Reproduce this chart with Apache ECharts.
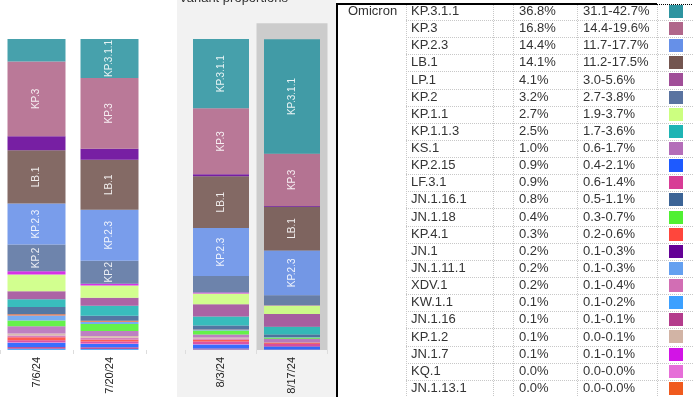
<!DOCTYPE html>
<html>
<head>
<meta charset="utf-8">
<script src="https://cdn.jsdelivr.net/npm/echarts@6/dist/echarts.min.js"></script>
<style>
  html, body { margin: 0; padding: 0; background: #fff; }
  #chart { width: 693px; height: 397px; }
</style>
</head>
<body>
<div id="chart"></div>
<script>
// ---- data ----
const dates = ["7/6/24", "7/20/24", "8/3/24", "8/17/24"];

// stacking order, top of the bar first
const stackOrder = [
  "KP.3.1.1", "KP.3", "JN.1", "LB.1", "KP.2.3", "KP.2", "JN.1.7", "KP.1.1",
  "LP.1", "KP.1.1.3", "JN.1.16.1", "JN.1.13.1", "JN.1.11.1", "JN.1.18", "KS.1",
  "KP.1.2", "XDV.1", "KP.4.1", "LF.3.1", "KQ.1", "KP.2.15", "JN.1.16", "KW.1.1"
];

// shares (%) per date, same order as stackOrder
const share_0706 = [7.3, 24.1, 4.5, 17.1, 13.2, 8.6, 1.0, 5.4, 2.6, 2.5, 2.3, 0.4, 1.6, 1.9, 2.3, 0.6, 0.6, 1.0, 0.6, 0.2, 1.3, 0.6, 0.4];
const share_0720 = [12.5, 22.8, 3.5, 16.1, 16.4, 7.4, 0.6, 3.9, 2.6, 3.2, 1.6, 0.3, 0.7, 2.3, 1.6, 0.6, 0.6, 0.6, 0.6, 0.2, 1.0, 0.6, 0.3];
const share_0803 = [22.3, 21.2, 0.6, 16.7, 15.4, 5.3, 0.3, 3.5, 3.9, 2.9, 1.3, 0.1, 0.2, 1.3, 1.0, 0.3, 0.4, 0.6, 0.8, 0.1, 1.3, 0.3, 0.2];
const share_0817 = [36.8, 16.8, 0.2, 14.1, 14.4, 3.2, 0.1, 2.7, 4.1, 2.5, 0.8, 0.0, 0.2, 0.4, 1.0, 0.1, 0.2, 0.3, 0.9, 0.0, 0.9, 0.1, 0.1];

// table for the latest period
const tableLineages = [
  "KP.3.1.1", "KP.3", "KP.2.3", "LB.1", "LP.1", "KP.2", "KP.1.1", "KP.1.1.3",
  "KS.1", "KP.2.15", "LF.3.1", "JN.1.16.1", "JN.1.18", "KP.4.1", "JN.1",
  "JN.1.11.1", "XDV.1", "KW.1.1", "JN.1.16", "KP.1.2", "JN.1.7", "KQ.1", "JN.1.13.1"
];
const tablePct = [
  "36.8%", "16.8%", "14.4%", "14.1%", "4.1%", "3.2%", "2.7%", "2.5%", "1.0%", "0.9%", "0.9%",
  "0.8%", "0.4%", "0.3%", "0.2%", "0.2%", "0.2%", "0.1%", "0.1%", "0.1%", "0.1%", "0.0%", "0.0%"
];
const tableRange = [
  "31.1-42.7%", "14.4-19.6%", "11.7-17.7%", "11.2-17.5%", "3.0-5.6%", "2.7-3.8%", "1.9-3.7%",
  "1.7-3.6%", "0.6-1.7%", "0.4-2.1%", "0.6-1.4%", "0.5-1.1%", "0.3-0.7%", "0.2-0.6%",
  "0.1-0.3%", "0.1-0.3%", "0.1-0.4%", "0.1-0.2%", "0.1-0.1%", "0.0-0.1%", "0.1-0.1%",
  "0.0-0.0%", "0.0-0.0%"
];
const tableColors = [
  "#2e94a0", "#b0668a", "#6690e8", "#735550", "#a04e98", "#5a73a0", "#ccff80", "#1eb4b4",
  "#b46eb9", "#1e5aff", "#d83c96", "#3c6496", "#50f032", "#ff463c", "#640096",
  "#64a0f0", "#d26eb4", "#3ca0ff", "#b43c8c", "#d2b4a5", "#d214e6", "#e66ed8", "#f05a1e"
];
const groupLabel = "Omicron";
const titleText = "Variant proportions";

// ---- build ----
const FONT = "'Liberation Sans', Arial, sans-serif";
const TEXT = "#333";
const BAR_TOP = 39, BAR_BOTTOM = 350;
const pxPerPct = (BAR_BOTTOM - BAR_TOP) / 100;

const measure = document.createElement("canvas").getContext("2d");
measure.font = "10px " + FONT;
function fits(name, value) {
  return value * pxPerPct >= measure.measureText(name).width + 1;
}

const shares = [share_0706, share_0720, share_0803, share_0817];
const colorOf = {};
tableLineages.forEach((n, i) => (colorOf[n] = tableColors[i]));

const series = [];
// highlight box behind the latest bar
series.push({
  type: "bar",
  xAxisIndex: 2,
  yAxisIndex: 1,
  data: ["-", 105.1],
  barWidth: "100%",
  clip: false,
  silent: true,
  z: 1,
  itemStyle: { color: "#cccccc" },
});

[0, 1].forEach((g) => {
  const idx = g === 0 ? [0, 1] : [2, 3];
  stackOrder
    .slice()
    .reverse()
    .forEach((name) => {
      const k = stackOrder.indexOf(name);
      series.push({
        name: name,
        type: "bar",
        stack: "s" + g,
        xAxisIndex: g,
        yAxisIndex: g,
        barWidth: g === 0 ? 58 : 56,
        z: 2,
        itemStyle: { color: colorOf[name], opacity: 0.88 },
        label: {
          position: "inside",
          rotate: 90,
          color: "#fff",
          fontSize: 10,
          fontFamily: FONT,
          formatter: name,
        },
        data: idx.map((d) => ({
          value: shares[d][k],
          label: { show: fits(name, shares[d][k]) },
        })),
      });
    });
});

// table graphics
const ROW0 = 20, ROW_H = 17.135;
const g = [];
g.push({ type: "rect", z: -10, shape: { x: 177, y: 0, width: 159, height: 397 }, style: { fill: "#f2f2f2" } });
g.push({
  type: "text", x: 179, y: 5,
  style: { text: titleText, fill: TEXT, fontSize: 13, fontFamily: FONT, align: "left", verticalAlign: "bottom" },
});
g.push({ type: "rect", shape: { x: 336, y: 3, width: 2, height: 394 }, style: { fill: "#000" } });
g.push({ type: "rect", shape: { x: 336, y: 3, width: 321, height: 2 }, style: { fill: "#000" } });
g.push({
  type: "line", shape: { x1: 657, y1: 4.5, x2: 693, y2: 4.5 },
  style: { stroke: "#000", lineWidth: 1, lineDash: [1, 1] },
});
for (let k = 0; k < tableLineages.length - 1; k++) {
  const y = Math.round(ROW0 + ROW_H * k) + 0.5;
  g.push({
    type: "line", shape: { x1: 406, y1: y, x2: 693, y2: y },
    style: { stroke: "#c8c8c8", lineWidth: 1, lineDash: [1, 1] },
  });
}
[406, 493, 513, 577, 657].forEach((x) => {
  g.push({
    type: "line", shape: { x1: x + 0.5, y1: 5, x2: x + 0.5, y2: 397 },
    style: { stroke: "#c8c8c8", lineWidth: 1, lineDash: [1, 1] },
  });
});
function cellText(txt, x, y) {
  return {
    type: "text", x: x, y: y,
    style: { text: txt, fill: TEXT, fontSize: 13, fontFamily: FONT, align: "left", verticalAlign: "middle" },
  };
}
g.push(cellText(groupLabel, 348, ROW0 - ROW_H / 2));
tableLineages.forEach((n, i) => {
  const y = ROW0 + ROW_H * (i - 0.5);
  g.push(cellText(n, 411, y));
  g.push(cellText(tablePct[i], 519, y));
  g.push(cellText(tableRange[i], 583, y));
  g.push({
    type: "rect", shape: { x: 669, y: Math.round(y - 6.5), width: 14, height: 13 },
    style: { fill: tableColors[i] },
  });
});

const xAxisBase = {
  type: "category",
  axisLine: { show: false },
  axisTick: { show: true, length: 4, lineStyle: { color: "#dddddd" } },
  axisLabel: { rotate: 90, fontSize: 11, color: "#222", margin: 7, fontFamily: FONT },
};

const option = {
  animation: false,
  backgroundColor: "#fff",
  grid: [
    { left: -2, top: BAR_TOP, width: 148, height: BAR_BOTTOM - BAR_TOP },
    { left: 185.5, top: BAR_TOP, width: 142, height: BAR_BOTTOM - BAR_TOP },
  ],
  xAxis: [
    Object.assign({ gridIndex: 0, data: dates.slice(0, 2) }, xAxisBase),
    Object.assign({ gridIndex: 1, data: dates.slice(2, 4) }, xAxisBase),
    { type: "category", gridIndex: 1, data: dates.slice(2, 4), show: false },
  ],
  yAxis: [
    { type: "value", gridIndex: 0, min: 0, max: 100, show: false },
    { type: "value", gridIndex: 1, min: 0, max: 100, show: false },
  ],
  graphic: { elements: g },
  series: series,
};

const chart = echarts.init(document.getElementById("chart"), null, { renderer: "canvas" });
chart.setOption(option);
</script>
</body>
</html>
